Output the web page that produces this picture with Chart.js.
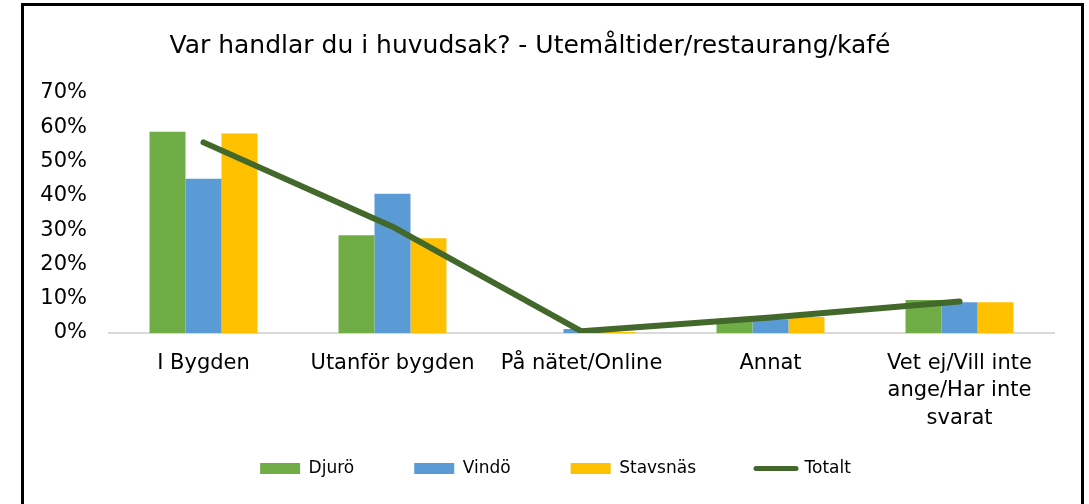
<!DOCTYPE html>
<html>
<head>
<meta charset="utf-8">
<script src="https://cdn.jsdelivr.net/npm/chart.js@4/dist/chart.umd.min.js"></script>
<style>
  html, body { margin: 0; padding: 0; background: #fff; }
  #wrap { position: relative; width: 1089px; height: 504px; overflow: hidden; }
  #frame { position: absolute; left: 21px; top: 3px; width: 1057px; height: 520px; border: 3px solid #000; border-bottom: none; }
  #holder { position: absolute; left: 0; top: 0; width: 1089px; height: 504px; }
</style>
</head>
<body>
<div id="wrap">
  <div id="frame"></div>
  <div id="holder"><canvas id="chart"></canvas></div>
</div>
<script>
const categories = ['I Bygden', 'Utanför bygden', 'På nätet/Online', 'Annat', ['Vet ej/Vill inte', 'ange/Har inte', 'svarat']];
const djuro = [58.7, 28.5, 0, 3.5, 9.6];
const vindo = [45.0, 40.6, 1.2, 4.0, 9.0];
const stavsnas = [58.2, 27.6, 0.3, 4.7, 9.0];
const totalt = [55.6, 31.0, 0.5, 4.5, 9.2];
const yTicks = [0, 10, 20, 30, 40, 50, 60, 70];

const FONT = "'DejaVu Sans', sans-serif";

// nudge the legend box: Excel placed it off-center, and the wide item padding
// would otherwise push the items below the canvas
const legendShift = {
  id: 'legendShift',
  afterLayout(chart, args, opts) {
    const lg = chart.legend;
    if (!lg) return;
    lg.left += opts.dx;
    lg.right += opts.dx;
    lg.top += opts.dy;
    lg.bottom = lg.top + opts.h;
    lg.height = opts.h;
  }
};

new Chart(document.getElementById('chart'), {
  data: {
    labels: categories,
    datasets: [
      { type: 'bar', label: 'Djurö', data: djuro, backgroundColor: '#70AD47', order: 1 },
      { type: 'bar', label: 'Vindö', data: vindo, backgroundColor: '#5B9BD5', order: 1 },
      { type: 'bar', label: 'Stavsnäs', data: stavsnas, backgroundColor: '#FFC000', order: 1 },
      {
        type: 'line', label: 'Totalt', data: totalt, borderColor: '#43682B', backgroundColor: '#43682B',
        borderWidth: 6, borderCapStyle: 'round', borderJoinStyle: 'round', pointRadius: 0, tension: 0, order: 0
      }
    ]
  },
  plugins: [legendShift],
  options: {
    responsive: true,
    maintainAspectRatio: false,
    animation: false,
    layout: { padding: { left: 6, right: 35, top: 0, bottom: 21 } },
    datasets: { bar: { categoryPercentage: 0.571, barPercentage: 1.0 } },
    scales: {
      x: {
        grid: { display: false, drawTicks: false },
        border: { display: true, color: '#D9D9D9', width: 2 },
        ticks: { color: '#000', font: { family: FONT, size: 21, lineHeight: 1.3 }, padding: 17, maxRotation: 0, autoSkip: false },
        afterFit: (s) => { s.height = 100; }
      },
      y: {
        min: 0,
        max: 70,
        grid: { display: false, drawTicks: false },
        border: { display: false },
        afterBuildTicks: (s) => { s.ticks = yTicks.map((v) => ({ value: v })); },
        ticks: { color: '#000', font: { family: FONT, size: 21 }, padding: 22, callback: (v) => v + '%' },
        afterFit: (s) => { s.width = 103; }
      }
    },
    plugins: {
      title: {
        display: true,
        text: 'Var handlar du i huvudsak? - Utemåltider/restaurang/kafé',
        color: '#000',
        font: { family: FONT, size: 25, weight: 'normal', lineHeight: 1.2 },
        padding: { top: 31, bottom: 32 }
      },
      legend: {
        position: 'bottom',
        fullSize: false,
        maxHeight: 50,
        labels: {
          color: '#000',
          font: { family: FONT, size: 17 },
          usePointStyle: true,
          pointStyleWidth: 40,
          boxWidth: 40,
          boxHeight: 11,
          padding: 60,
          sort: (a, b) => a.datasetIndex - b.datasetIndex,
          generateLabels: (chart) => {
            const items = Chart.defaults.plugins.legend.labels.generateLabels(chart);
            return items.map((it) => {
              const ds = chart.data.datasets[it.datasetIndex];
              if (ds.type === 'line') {
                return Object.assign(it, { pointStyle: 'line', lineWidth: 5, lineCap: 'round', strokeStyle: ds.borderColor, fillStyle: ds.borderColor });
              }
              return Object.assign(it, { pointStyle: 'rect', lineWidth: 0 });
            });
          }
        }
      },
      legendShift: { dx: -26, dy: -33, h: 100 },
      tooltip: { enabled: false }
    }
  }
});
</script>
</body>
</html>
